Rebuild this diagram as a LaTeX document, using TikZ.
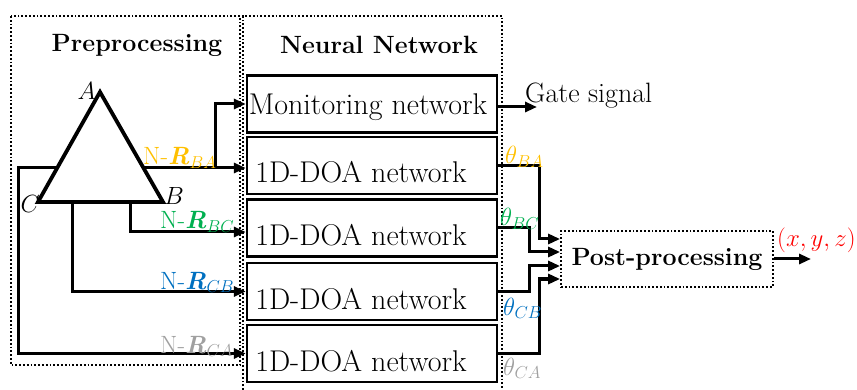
\documentclass[tikz,border=0pt]{standalone}
\usepackage{tikz}
\usetikzlibrary{arrows.meta,positioning}
\definecolor{cBA}{RGB}{255,192,0}
\definecolor{cBC}{RGB}{0,176,80}
\definecolor{cCB}{RGB}{0,112,192}
\definecolor{cCA}{RGB}{160,160,160}

\begin{document}
\begin{tikzpicture}[x=1pt,y=-1pt,
  netbox/.style={draw, line width=2.4pt, minimum width=250pt, minimum height=57pt, inner sep=0pt},
  frame/.style={draw, line width=1.8pt, dotted},
  arrow/.style={-{Triangle[length=12pt,width=10pt]}, line width=3pt},
  lab/.style={font=\fontsize{30}{32}\selectfont, inner sep=0pt},
  head/.style={font=\fontsize{25}{27}\selectfont\bfseries, inner sep=0pt},
  sig/.style={font=\fontsize{24}{26}\selectfont, inner sep=0pt}
]
\useasboundingbox (0,0) rectangle (857,390);

% the two stages
\draw[frame] (11,16) rectangle (240,365);
\draw[frame] (243,390) |- (502,16) -- (502,390);
\node[head] (prehead) at (137,45) {Preprocessing};
\node[head] (nnhead) at (379,45) {Neural Network};

% networks
\node[netbox] (mon) at (372,104) {};
\node[lab, anchor=base] (montxt) at (368,115) {Monitoring network};
\foreach \n/\y in {1/165.5,2/228,3/291.5,4/353.5}{
  \node[netbox] (doa\n) at (372,\y) {};
  \node[lab, anchor=base] (doatxt\n) at ([xshift=-11pt,yshift=-17.5pt]doa\n.center) {1D-DOA network};
}

% array
\coordinate (A) at (100,92);
\coordinate (B) at (163,202);
\coordinate (C) at (38,202);
\draw[line width=3.8pt] (A) -- (B) -- (C) -- cycle;
\node[sig, font=\fontsize{27}{29}\selectfont, anchor=base east] (labA) at (96,100) {$A$};
\node[sig, font=\fontsize{27}{29}\selectfont, anchor=base west] (labB) at (164,205) {$B$};
\node[sig, font=\fontsize{27}{29}\selectfont, anchor=base east] (labC) at (40,213) {$C$};

\coordinate (tl) at (56,168);
\coordinate (tr) at (144,168);
\coordinate (br) at (215,168);
\coordinate (bb) at (130,202);
\coordinate (bc) at (72,202);
\draw[arrow] (tr) -- (tr -| doa1.west);
\draw[arrow] (br) |- (mon.west);
\draw[arrow] (bb) |- ([yshift=-4pt]doa2.west);
\draw[arrow] (bc) |- (doa3.west);
\draw[arrow] (tl) -- ++(-38,0) |- (doa4.west);

\node[sig, font=\fontsize{25}{27}\selectfont, text=cBA, anchor=base west] (nba) at (143,165) {N-\textbf{\textit{R}}$_{BA}$};
\node[sig, font=\fontsize{25}{27}\selectfont, text=cBC, anchor=base west] (nbc) at (160,229) {N-\textbf{\textit{R}}$_{BC}$};
\node[sig, font=\fontsize{25}{27}\selectfont, text=cCB, anchor=base west] (ncb) at (160,289) {N-\textbf{\textit{R}}$_{CB}$};
\node[sig, font=\fontsize{25}{27}\selectfont, text=cCA, anchor=base west] (nca) at (160,353) {N-\textbf{\textit{R}}$_{CA}$};

% fusion
\node[frame, minimum width=212pt, minimum height=56pt, font=\fontsize{25}{27}\selectfont\bfseries] (post) at (667,259) {Post-processing};
\draw[arrow] (doa1.east) -- ++(41,0) |- ([yshift=20pt]post.west);
\draw[arrow] (doa2.east) -- ++(31,0) |- ([yshift=7pt]post.west);
\draw[arrow] (doa3.east) -- ++(31,0) |- ([yshift=-7pt]post.west);
\draw[arrow] (doa4.east) -- ++(41,0) |- ([yshift=-20pt]post.west);

\node[sig, text=cBA, anchor=base west] (tba) at (505,164) {$\theta_{BA}$};
\node[sig, text=cBC, anchor=base west] (tbc) at (500,226) {$\theta_{BC}$};
\node[sig, text=cCB, anchor=base west] (tcb) at (503,315) {$\theta_{CB}$};
\node[sig, text=cCA, anchor=base west] (tca) at (503,375) {$\theta_{CA}$};

\coordinate (out) at (811,259);
\draw[arrow] (post.east) -- (out);
\node[sig, text=red, anchor=base west] (xyz) at (777,247) {$(x,y,z)$};

\coordinate (gate) at (537,107);
\draw[arrow] ([yshift=-3pt]mon.east) -- (gate);
\node[lab, font=\fontsize{28}{30}\selectfont, anchor=base west] (gatetxt) at (525,103) {Gate signal};
\end{tikzpicture}
\end{document}
